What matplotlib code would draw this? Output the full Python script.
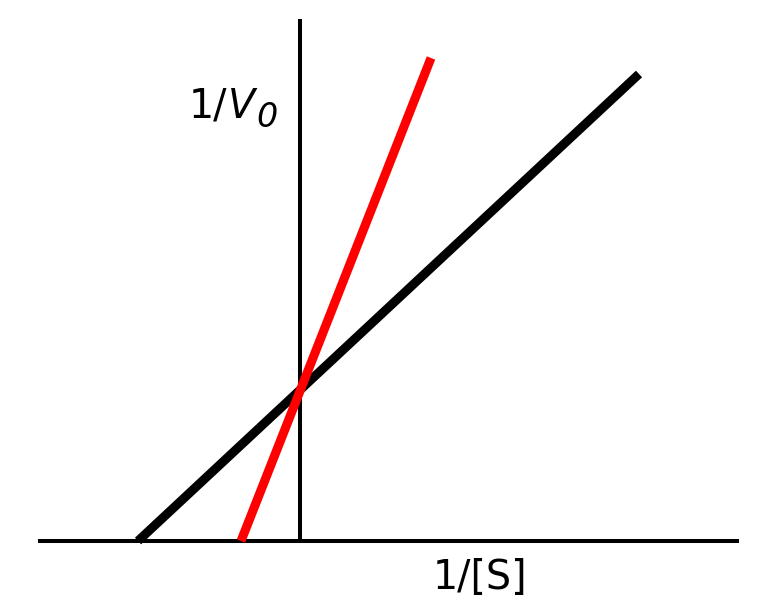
import matplotlib
matplotlib.use("Agg")
from matplotlib import pyplot as plt

# Lineweaver-Burk lines: x = 1/[S], y = 1/V0 (arbitrary units)
black_x = [-1.62, 3.39]
black_y = [0.0, 4.67]
red_x = [-0.59, 1.31]
red_y = [0.0, 4.83]

x_label = "1/[S]"
y_label_parts = ["1/", "V", "0"]

fig = plt.figure(figsize=(7.65, 6.07), dpi=100)
ax = fig.add_axes([0, 0, 1, 1])
ax.set_xlim(-3.0, 4.65)
ax.set_ylim(-0.66, 5.41)

#axes through the origin
ax.spines["left"].set_position(("data", 0))
ax.spines["bottom"].set_position(("data", 0))
ax.spines["left"].set_bounds(0, 5.2)
ax.spines["bottom"].set_bounds(-2.6, 4.37)
ax.spines["left"].set_linewidth(2.9)
ax.spines["bottom"].set_linewidth(2.9)
ax.spines["right"].set_visible(False)
ax.spines["top"].set_visible(False)
ax.set_xticks([])
ax.set_yticks([])
ax.patch.set_alpha(0)

ax.plot(black_x, black_y, color="black", lw=6.5, solid_capstyle="butt", zorder=2)
ax.plot(red_x, red_y, color="#ff0000", lw=6.5, solid_capstyle="butt", zorder=3)

# y label: "1/" then italic V with an italic subscript 0
t1 = ax.text(-1.11, 4.24, y_label_parts[0], fontsize=28.5, ha="left", va="baseline")
t2 = ax.annotate(y_label_parts[1], xy=(1, 0), xycoords=t1, fontsize=28.5,
                 style="italic", ha="left", va="bottom")
ax.annotate(y_label_parts[2], xy=(1, 0), xycoords=t2, xytext=(1.5, -5.5),
            textcoords="offset points", fontsize=24, style="italic",
            ha="left", va="bottom")

ax.text(1.33, -0.48, x_label, fontsize=28.5, ha="left", va="baseline")

plt.savefig("out.png", dpi=100)
